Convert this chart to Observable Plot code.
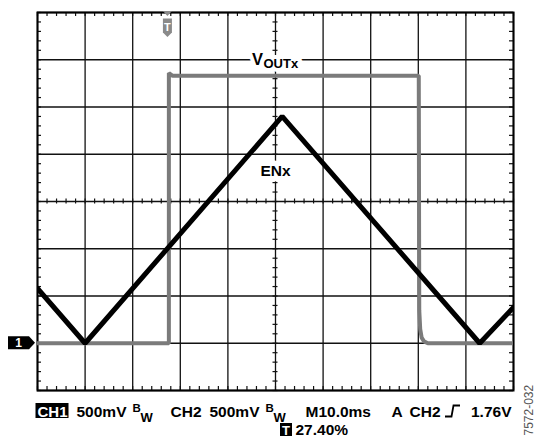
<!DOCTYPE html>
<html><head><meta charset="utf-8">
<script src="https://cdn.jsdelivr.net/npm/d3@7"></script>
<script src="https://cdn.jsdelivr.net/npm/@observablehq/plot@0.6"></script>
<style>body{margin:0;background:#fff;} svg{display:block;}</style>
</head><body><div id="chart"></div>
<script>
// Time in ms (M10.0ms => 10 ms/div), voltage in V (500 mV/div), CH1 ground marker at 0 V
const enxTime  = [0, 10.0, 51.4, 92.9, 100];
const enxVolts = [0.58, 0.0, 2.40, 0.0, 0.38];
const voutTime  = [0, 27.6, 27.6, 28.4, 80.1, 80.2, 80.4, 80.7, 81.2, 82.0, 100];
const voutVolts = [0, 0, 2.86, 2.83, 2.83, 0.35, 0.15, 0.06, 0.02, 0.0, 0.0];
const triggerPos = 27.4;   // 27.40 %
const majorX = [0, 10, 20, 30, 40, 50, 60, 70, 80, 90, 100];
const majorY = [-0.5, 0, 0.5, 1, 1.5, 2, 2.5, 3, 3.5];
const minorX = d3.range(0, 100.01, 2);
const minorY = d3.range(-0.5, 3.501, 0.1);

const enx = enxTime.map((t, i) => ({t, v: enxVolts[i]}));
const vout = voutTime.map((t, i) => ({t, v: voutVolts[i]}));

const W = 536, H = 437, ml = 37, mr = 23, mt = 12, mb = 47;
const pw = W - ml - mr, ph = H - mt - mb;
const vpp = 4 / ph, mpp = 100 / pw;   // data units per pixel
const font = "Arial, 'Liberation Sans', Helvetica, sans-serif";

function cap(str, px, base, opts = {}) {
  return Plot.text([str], {text: d => d, frameAnchor: "bottom-left", dx: px - ml, dy: base - (H - mb),
    textAnchor: "start", lineAnchor: "bottom", fontSize: 15.5, fontWeight: "bold", fill: "#000", ...opts});
}
const L1 = 416.5, L2 = 434.5;

const chart = Plot.plot({
  width: W, height: H,
  marginLeft: ml, marginRight: mr, marginTop: mt, marginBottom: mb,
  x: {domain: [0, 100], axis: null},
  y: {domain: [-0.5, 3.5], axis: null},
  style: {fontFamily: font, background: "white", overflow: "visible"},
  marks: [
    Plot.ruleX(majorX, {stroke: "#111", strokeWidth: 1.3}),
    Plot.ruleY(majorY, {stroke: "#111", strokeWidth: 1.3}),
    Plot.ruleX(minorX, {y1: 3.5, y2: 3.5 - 4 * vpp, stroke: "#111", strokeWidth: 1.2}),
    Plot.ruleX(minorX, {y1: -0.5, y2: -0.5 + 4 * vpp, stroke: "#111", strokeWidth: 1.2}),
    Plot.ruleY(minorY, {x1: 0, x2: 4 * mpp, stroke: "#111", strokeWidth: 1.2}),
    Plot.ruleY(minorY, {x1: 100, x2: 100 - 4 * mpp, stroke: "#111", strokeWidth: 1.2}),
    Plot.ruleX(minorX, {y1: 1.5 - 2.5 * vpp, y2: 1.5 + 2.5 * vpp, stroke: "#111", strokeWidth: 1.2}),
    Plot.ruleY(minorY, {x1: 50 - 2.5 * mpp, x2: 50 + 2.5 * mpp, stroke: "#111", strokeWidth: 1.2}),
    Plot.frame({stroke: "#000", strokeWidth: 2}),
    // channel labels
    Plot.text(["V"], {text: d => d, x: 50, y: 3.0, dx: -23.5, dy: 5.5, textAnchor: "start", lineAnchor: "bottom",
      fontSize: 16.5, fontWeight: "bold", fill: "#000", stroke: "white", strokeWidth: 8}),
    Plot.text(["OUTx"], {text: d => d, x: 50, y: 3.0, dx: -12, dy: 8.5, textAnchor: "start", lineAnchor: "bottom",
      fontSize: 13, fontWeight: "bold", fill: "#000", stroke: "white", strokeWidth: 8}),
    Plot.text(["ENx"], {text: d => d, x: 50, y: 1.5, dy: -26, textAnchor: "middle", lineAnchor: "bottom",
      fontSize: 15.5, fontWeight: "bold", fill: "#000", stroke: "white", strokeWidth: 11}),
    // traces
    Plot.line(vout, {x: "t", y: "v", stroke: "#7b7b7b", strokeWidth: 4, strokeLinejoin: "miter", clip: true}),
    Plot.line(enx, {x: "t", y: "v", stroke: "#000", strokeWidth: 5, strokeLinejoin: "miter", clip: true}),
    // status line
    cap("CH1", 37, L1, {fill: "#fff", fontSize: 15}),
    cap("500mV", 76, L1),
    cap("B", 132, 411.5, {fontSize: 11.5}),
    cap("W", 140, 421, {fontSize: 13}),
    cap("CH2", 170, L1),
    cap("500mV", 209, L1),
    cap("B", 265, 411.5, {fontSize: 11.5}),
    cap("W", 273, 421, {fontSize: 13}),
    cap("M10.0ms", 305, L1),
    cap("A", 391, L1),
    cap("CH2", 409, L1),
    cap("1.76V", 511, L1, {textAnchor: "end"}),
    cap("T", 281.5, L2, {fill: "#fff", fontSize: 13}),
    cap("27.40%", 295, L2),
    Plot.text(["7572-032"], {text: d => d, frameAnchor: "bottom-right", dx: 16, dy: 45, rotate: -90,
      textAnchor: "start", lineAnchor: "middle", fontSize: 12, fill: "#555"})
  ]
});

document.getElementById("chart").append(chart);

const svg = d3.select(chart);
const xs = chart.scale("x"), ys = chart.scale("y");
const firstG = chart.querySelector("g");
// black boxes behind inverse text
svg.insert("rect", () => firstG).attr("x", 35.5).attr("y", 403).attr("width", 33).attr("height", 15).attr("fill", "#000");
svg.insert("rect", () => firstG).attr("x", 280).attr("y", 423).attr("width", 12).attr("height", 13).attr("fill", "#000");
// trigger slope symbol
svg.append("path").attr("d", "M445,416.5 H451.5 L453.5,405.5 H460").attr("fill", "none")
  .attr("stroke", "#000").attr("stroke-width", 1.8);
// CH1 ground marker
const gy = ys.apply(0);
svg.append("path").attr("d", `M8,${gy - 6.5} H29 L35,${gy} L29,${gy + 6.5} H8 Z`).attr("fill", "#000");
svg.append("text").attr("x", 18.5).attr("y", gy + 4.5).attr("text-anchor", "middle")
  .attr("font-family", font).attr("font-weight", "bold").attr("font-size", 12).attr("fill", "#fff").text("1");
// trigger position marker
const tx = xs.apply(triggerPos);
svg.append("path").attr("d", `M${tx - 4.5},11 H${tx + 4.5} L${tx},16 Z`).attr("fill", "#8a8a8a");
svg.append("path").attr("d", `M${tx - 4.5},18.5 H${tx + 4.5} V32.5 L${tx},37 L${tx - 4.5},32.5 Z`).attr("fill", "#8a8a8a");
svg.append("text").attr("x", tx).attr("y", 31).attr("text-anchor", "middle")
  .attr("font-family", font).attr("font-weight", "bold").attr("font-size", 11).attr("fill", "#fff").text("T");
</script>
</body></html>
